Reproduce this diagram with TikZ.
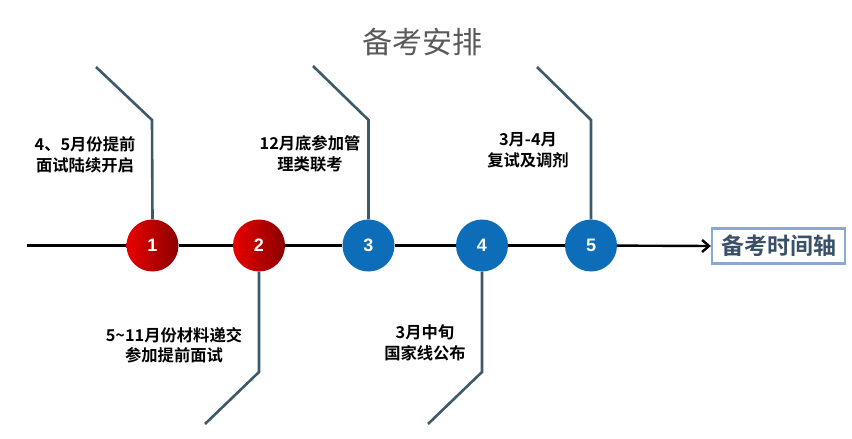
\documentclass[tikz,border=0pt]{standalone}
\usepackage{fontspec}
\setmainfont{Liberation Sans}
\newfontfamily\cjk{Noto Sans CJK SC}
\newfontfamily\cjkb{Noto Sans CJK SC Bold}
\usetikzlibrary{arrows.meta}
\definecolor{conn}{HTML}{3D5A6C}
\definecolor{bluec}{HTML}{0E6DB8}
\definecolor{redl}{HTML}{E80000}
\definecolor{redr}{HTML}{8A0000}
\definecolor{boxb}{HTML}{8AA8D6}
\definecolor{boxt}{HTML}{3A5068}
\definecolor{titlec}{HTML}{595959}
\begin{document}
\begin{tikzpicture}[x=1pt,y=-1pt,
  conline/.style={draw=conn,line width=2.6pt},
  axisline/.style={draw=black,line width=2.4pt},
  dot/.style={circle,minimum size=52pt,inner sep=0pt,text=white,font=\bfseries\fontsize{18}{18}\selectfont},
  reddot/.style={dot,left color=redl,right color=redr},
  bluedot/.style={dot,fill=bluec},
  lbl/.style={align=center,font=\cjkb\fontsize{16.3}{20.5}\selectfont}
]
\useasboundingbox (0,0) rectangle (852,439);
\node[font=\cjk\fontsize{30}{30}\selectfont,text=titlec] (title) at (422,42) {备考安排};

\node[reddot] (c1) at (152.5,245.5) {1};
\node[reddot] (c2) at (259,245.5) {2};
\node[bluedot] (c3) at (368.5,245.5) {3};
\node[bluedot] (c4) at (482,245.5) {4};
\node[bluedot] (c5) at (591,245.5) {5};

\node[draw=boxb,line width=2.2pt,inner sep=3pt,minimum width=133pt,minimum height=35pt,text=boxt,font=\cjkb\fontsize{23}{23}\selectfont] (axbox) at (778.5,246) {备考时间轴};

\coordinate (a0) at (27,245.5);
\draw[axisline] (a0) -- (c1);
\draw[axisline] (c1) -- (c2);
\draw[axisline] (c2) -- (c3);
\draw[axisline] (c3) -- (c4);
\draw[axisline] (c4) -- (c5);
\draw[axisline,-{Straight Barb[length=7pt,width=12pt,line width=2.4pt]}] (c5) -- (axbox.west);

\coordinate (b1) at (152,120); \coordinate (e1) at (96,67);
\coordinate (b3) at (368.5,120); \coordinate (e3) at (313,66);
\coordinate (b5) at (591,120); \coordinate (e5) at (537,67);
\coordinate (b2) at (259,372); \coordinate (e2) at (205,424);
\coordinate (b4) at (482,372); \coordinate (e4) at (428,424);
\draw[conline] (c1.north) -- (b1) -- (e1);
\draw[conline] (c3.north) -- (b3) -- (e3);
\draw[conline] (c5.north) -- (b5) -- (e5);
\draw[conline] (c2.south) -- (b2) -- (e2);
\draw[conline] (c4.south) -- (b4) -- (e4);

\node[lbl] (t1) at (85,155) {4、5月份提前\\面试陆续开启};
\node[lbl] (t3) at (310,154) {12月底参加管\\理类联考};
\node[lbl] (t5) at (528,150) {3月-4月\\复试及调剂};
\node[lbl] (t2) at (174,345) {5\textasciitilde 11月份材料递交\\参加提前面试};
\node[lbl] (t4) at (425,343) {3月中旬\\国家线公布};
\end{tikzpicture}
\end{document}
